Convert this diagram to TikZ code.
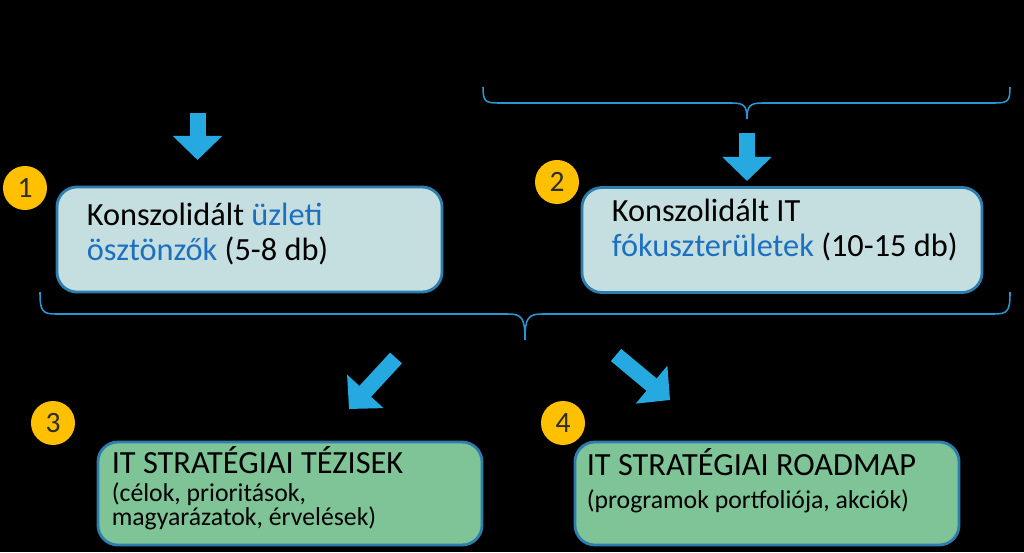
\documentclass[tikz,border=0pt]{standalone}
\usepackage{fontspec}
\setmainfont{Carlito}
\usetikzlibrary{arrows.meta,positioning,calc}
\usepackage{xcolor}
\definecolor{boxblue}{RGB}{197,222,224}
\definecolor{boxgreen}{RGB}{126,196,150}
\definecolor{edgeblue}{RGB}{45,125,175}
\definecolor{keyblue}{RGB}{28,112,192}
\definecolor{arrowblue}{RGB}{38,168,224}
\definecolor{braceblue}{RGB}{40,150,210}
\definecolor{numyellow}{RGB}{255,192,0}
\definecolor{numtext}{RGB}{45,45,45}

\begin{document}
\begin{tikzpicture}[
  x=0.025cm, y=-0.025cm,
  inputbox/.style={
    rectangle, rounded corners=0.5cm, draw=edgeblue, line width=2pt,
    fill=boxblue, inner sep=0pt, minimum height=2.625cm
  },
  outputbox/.style={
    rectangle, rounded corners=0.5cm, draw=edgeblue, line width=2pt,
    fill=boxgreen, inner sep=0pt, minimum height=2.575cm, minimum width=9.6cm
  },
  numbadge/.style={
    circle, fill=numyellow, minimum size=1.1cm, inner sep=0pt,
    text=numtext, font=\fontsize{21}{24}\selectfont
  },
  title/.style={anchor=base west, inner sep=0pt, align=left,
    font=\fontsize{23}{24.9}\selectfont},
  subtitle/.style={anchor=base west, inner sep=0pt, align=left,
    font=\fontsize{18.3}{17}\selectfont},
  bigarrow/.style={arrowblue, line width=0.4cm,
    -{Triangle[length=0.6cm, width=1.2cm]}},
  bracket/.style={braceblue, line width=1.1pt}
]

% Background and page size
\fill[black] (0,0) rectangle (1024,552);
\useasboundingbox (0,0) rectangle (1024,552);

% Input boxes (text anchored at the baseline of the last line)
\node[inputbox, minimum width=9.625cm] (drivers) at (249.5,239.5) {};
\node[inputbox, minimum width=10cm] (focus) at (782,240) {};
\node[title] (driverstext) at ($(drivers.north west)+(31,75)$)
  {Konszolidált \textcolor{keyblue}{üzleti}\\
   \textcolor{keyblue}{ösztönzők} (5-8 db)};
\node[title] (focustext) at ($(focus.north west)+(31,70)$)
  {Konszolidált IT\\
   \textcolor{keyblue}{fókuszterületek} (10-15 db)};

% Output boxes
\node[outputbox] (theses) at (290,493.5) {};
\node[outputbox] (roadmap) at (767,493.5) {};
\node[title] (thesestitle) at ($(theses.north west)+(15,33)$)
  {IT STRATÉGIAI TÉZISEK};
\node[subtitle] (thesessub) at ($(theses.north west)+(15,85)$)
  {(célok, prioritások,\\magyarázatok, érvelések)};
\node[title] (roadmaptitle) at ($(roadmap.north west)+(13,35)$)
  {IT STRATÉGIAI ROADMAP};
\node[subtitle] (roadmapsub) at ($(roadmap.north west)+(13,68)$)
  {(programok portfoliója, akciók)};

% Number badges
\node[numbadge] (n1) at (25,188) {1};
\node[numbadge] (n2) at (557,182) {2};
\node[numbadge] (n3) at (53,423) {3};
\node[numbadge] (n4) at (563,423) {4};

% Braces
\draw[bracket] (483,87) .. controls (483,101) and (485,103) .. (498,103)
  -- (732,103) .. controls (744,103) and (747,106) .. (747,119)
  .. controls (747,106) and (750,103) .. (762,103)
  -- (995,103) .. controls (1008,103) and (1010,101) .. (1010,87);
\draw[bracket] (40,292) .. controls (40,311) and (42,314) .. (56,314)
  -- (508,314) .. controls (522,314) and (525,318) .. (525,340)
  .. controls (525,318) and (528,314) .. (542,314)
  -- (994,314) .. controls (1008,314) and (1010,311) .. (1010,292);

% Block arrows
\coordinate (a1s) at (197.5,113);
\coordinate (a1e) at (197.5,160);
\coordinate (a2s) at (747,133);
\coordinate (a2e) at (747,181);
\coordinate (a3s) at (396,358);
\coordinate (a3e) at (349,409);
\coordinate (a4s) at (616,355);
\coordinate (a4e) at (670,400);
\draw[bigarrow] (a1s) -- (a1e);
\draw[bigarrow] (a2s) -- (a2e);
\draw[bigarrow] (a3s) -- (a3e);
\draw[bigarrow] (a4s) -- (a4e);

\end{tikzpicture}
\end{document}
